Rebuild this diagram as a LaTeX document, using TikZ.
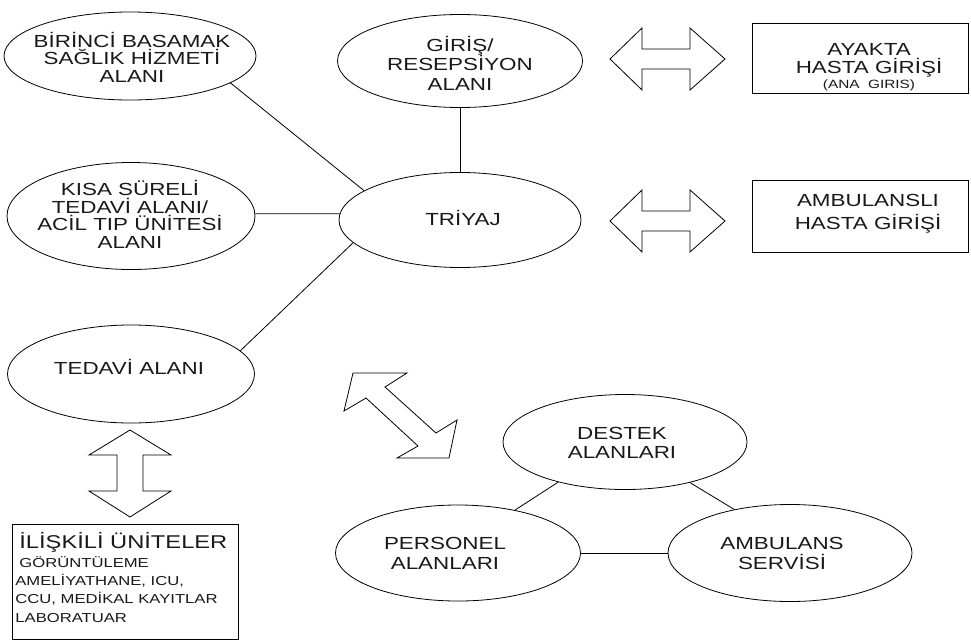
\documentclass[tikz,border=0pt]{standalone}
\usepackage{fontspec}
\setmainfont{Liberation Sans}[FakeStretch=1.28]
\usetikzlibrary{shapes.geometric}
\definecolor{textc}{RGB}{25,25,25}
\begin{document}
\begin{tikzpicture}[x=1pt,y=-1pt, line width=0.8pt,
  ell/.style={ellipse, draw, inner sep=0pt},
  lbl/.style={align=center, text=textc, inner sep=0pt},
  boxnode/.style={rectangle, draw, inner sep=0pt},
  fatarrow/.style={draw, line join=miter, fill=white}]
\fill[white] (0,0) rectangle (971,643);
\useasboundingbox (0,0) rectangle (971,643);

% ellipses
\node[ell, minimum width=252pt, minimum height=88pt] (birinci) at (130,56) {};
\node[lbl, font=\fontsize{17.5}{17.5}\selectfont] (birincit) at (132,57) {BİRİNCİ BASAMAK\\SAĞLIK HİZMETİ\\ALANI};

\node[ell, minimum width=245pt, minimum height=93pt] (giris) at (460,61) {};
\node[lbl, font=\fontsize{17.5}{19.5}\selectfont] (girist) at (460,63) {GİRİŞ/\\RESEPSİYON\\ALANI};

\node[ell, minimum width=242pt, minimum height=95pt] (triyaj) at (460,220) {};
\node[lbl, font=\fontsize{17.5}{18}\selectfont] (triyajt) at (463,218) {TRİYAJ};

\node[ell, minimum width=248pt, minimum height=107pt] (kisa) at (131,216) {};
\node[lbl, font=\fontsize{17.5}{17.5}\selectfont] (kisat) at (130,214.5) {KISA SÜRELİ\\TEDAVİ ALANI/\\ACİL TIP ÜNİTESİ\\ALANI};

\node[ell, minimum width=247pt, minimum height=98pt] (tedavi) at (131,374) {};
\node[lbl, font=\fontsize{17.5}{18}\selectfont] (tedavit) at (129,367) {TEDAVİ ALANI};

\node[ell, minimum width=244pt, minimum height=95pt] (destek) at (625,442) {};
\node[lbl, font=\fontsize{17.5}{19}\selectfont] (destekt) at (622,442.5) {DESTEK\\ALANLARI};

\node[ell, minimum width=245pt, minimum height=96pt] (personel) at (458,553) {};
\node[lbl, font=\fontsize{17.5}{20}\selectfont] (personelt) at (445,553) {PERSONEL\\ALANLARI};

\node[ell, minimum width=244pt, minimum height=97pt] (ambservis) at (790,553) {};
\node[lbl, font=\fontsize{17.5}{20}\selectfont] (ambservist) at (782,553) {AMBULANS\\SERVİSİ};

% boxes
\node[boxnode, minimum width=216pt, minimum height=70pt] (ayakta) at (860,58) {};
\node[lbl, font=\fontsize{17.5}{17.5}\selectfont] (ayaktat) at (869,60.5) {AYAKTA\\HASTA GİRİŞİ};
\node[lbl, font=\fontsize{12}{13}\selectfont] (anagiris) at (869,85.5) {(ANA\ \ GIRIS)};

\node[boxnode, minimum width=216pt, minimum height=72pt] (ambgiris) at (860,216) {};
\node[lbl, font=\fontsize{17.5}{23}\selectfont] (ambgirist) at (868,213.5) {AMBULANSLI\\HASTA GİRİŞİ};

\node[boxnode, minimum width=226pt, minimum height=115pt] (iliskili) at (125,581.5) {};
\node[lbl, anchor=base west, font=\fontsize{18.5}{19}\selectfont] (ilt1) at (19,548) {İLİŞKİLİ ÜNİTELER};
\node[lbl, anchor=base west, font=\fontsize{13}{13}\selectfont] (ilt2) at (19,567) {GÖRÜNTÜLEME};
\node[lbl, anchor=base west, font=\fontsize{13}{13}\selectfont] (ilt3) at (15,585.5) {AMELİYATHANE, ICU,};
\node[lbl, anchor=base west, font=\fontsize{13}{13}\selectfont] (ilt4) at (15,603) {CCU, MEDİKAL KAYITLAR};
\node[lbl, anchor=base west, font=\fontsize{13}{13}\selectfont] (ilt5) at (15,622.5) {LABORATUAR};

% connectors
\draw (birinci.-15) -- (triyaj.163);
\draw (kisa.1.4) -- (triyaj.177);
\draw (tedavi.12.4) -- (triyaj.192.5);
\draw (giris.south) -- (triyaj.north);
\draw (destek.211.5) -- (personel.37);
\draw (destek.-32.7) -- (ambservis.142);
\draw (personel.east) -- (ambservis.west);

% block double arrows
\draw[fatarrow] (610,59) -- (642,28) -- (642,49) -- (690,49) -- (690,28) -- (725,59)
  -- (690,90) -- (690,69) -- (642,69) -- (642,90) -- cycle;
\draw[fatarrow] (610,221) -- (642,190) -- (642,211) -- (690,211) -- (690,190) -- (725,221)
  -- (690,252) -- (690,231) -- (642,231) -- (642,252) -- cycle;
\draw[fatarrow] (130,430) -- (171,455) -- (143,455) -- (143,491) -- (171,491) -- (130,517)
  -- (89,491) -- (117,491) -- (117,455) -- (89,455) -- cycle;
\draw[fatarrow] (353,373) -- (407,373) -- (385,387) -- (436,433) -- (457,420) -- (449,458)
  -- (397,458) -- (418,446) -- (366,398) -- (344,411) -- cycle;
\end{tikzpicture}
\end{document}
